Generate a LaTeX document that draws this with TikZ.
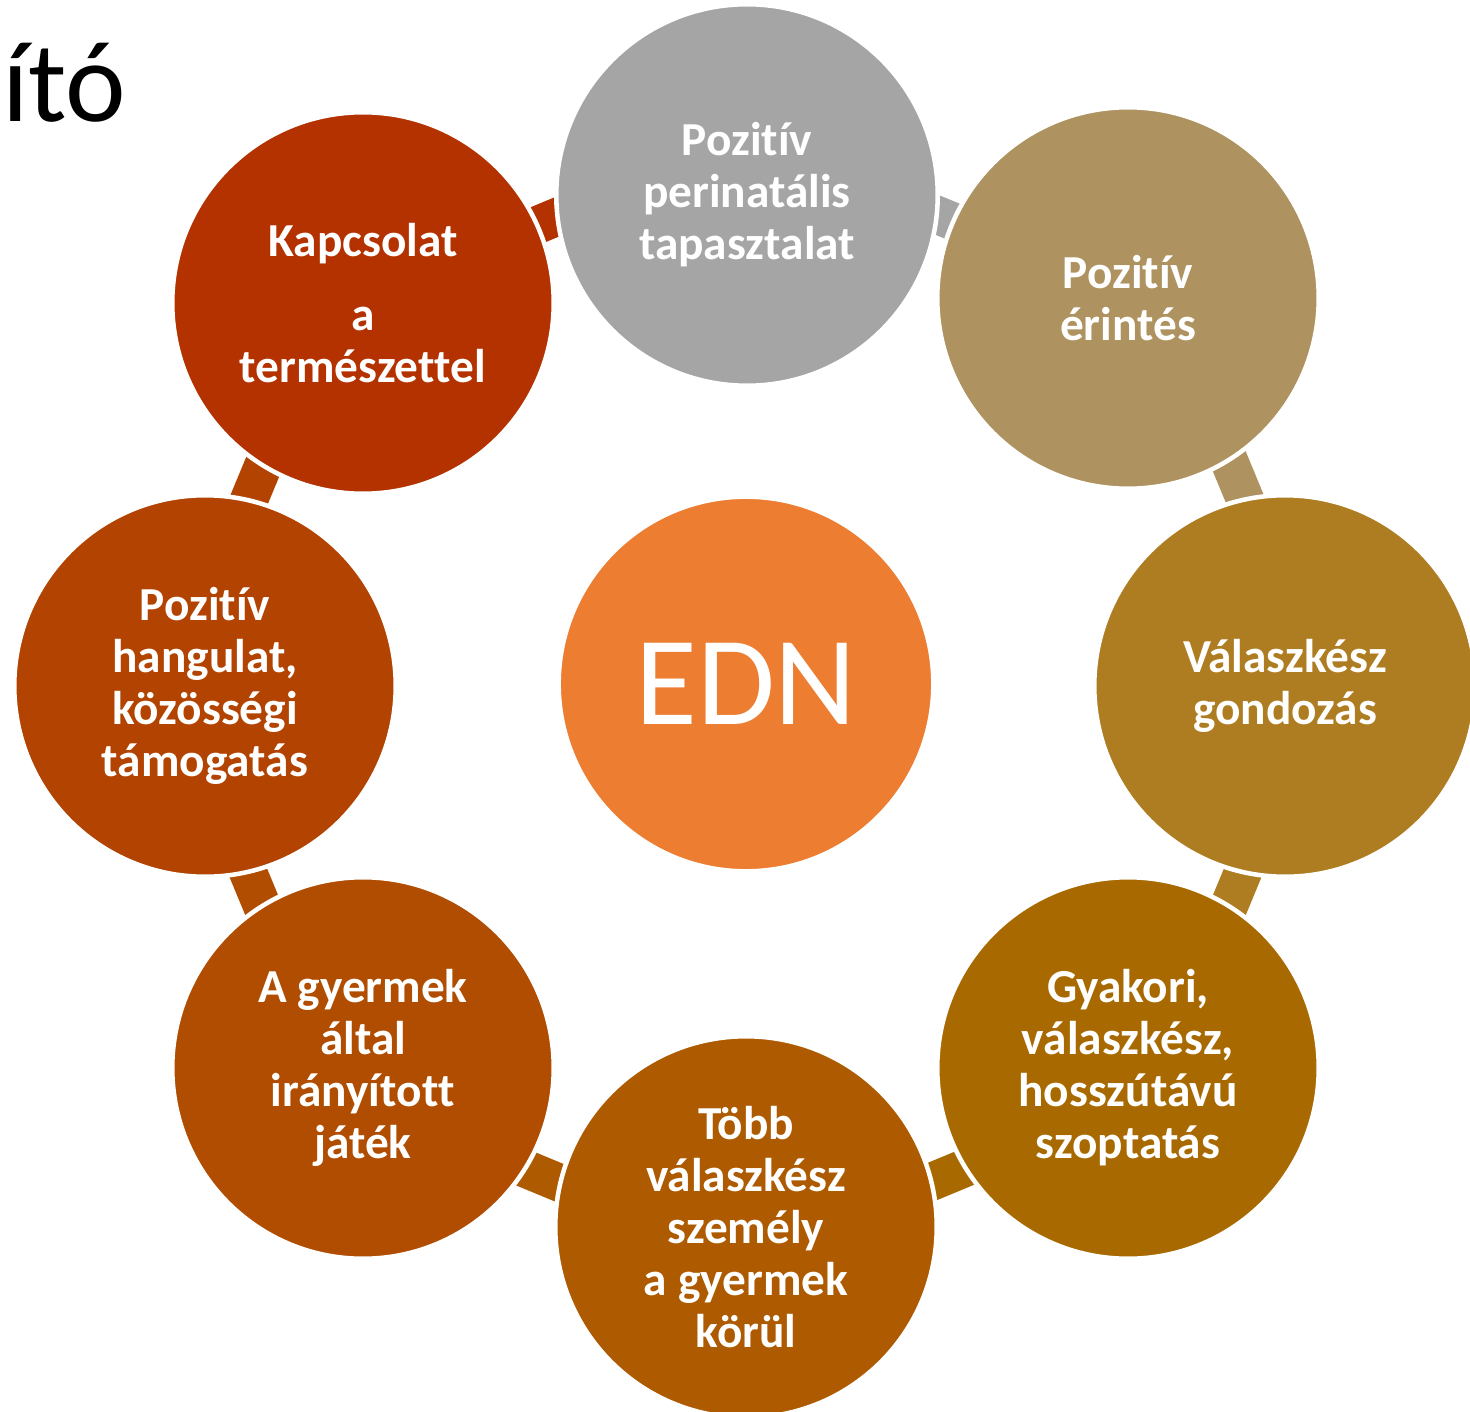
\documentclass[tikz,border=0pt]{standalone}
\usepackage{fontspec}
\setmainfont{Carlito}[Ligatures={NoCommon,NoContextual}, Contextuals=NoAlternate]
\usetikzlibrary{calc}
\newcommand{\nl}{\kern0pt}
\definecolor{cTop}{HTML}{A5A5A5}
\definecolor{cTR}{HTML}{AE9260}
\definecolor{cR}{HTML}{AE7D22}
\definecolor{cBR}{HTML}{A86A00}
\definecolor{cB}{HTML}{AD5A00}
\definecolor{cBL}{HTML}{B04D00}
\definecolor{cL}{HTML}{B24300}
\definecolor{cTL}{HTML}{B43200}
\definecolor{cMid}{HTML}{ED7D31}
\begin{document}
\begin{tikzpicture}[x=0.75pt,y=-0.75pt,
  bub/.style={circle, draw=white, line width=3.4pt, minimum size=286.1pt, inner sep=0pt,
    text=white, align=center, font=\fontsize{35.5}{39}\selectfont\bfseries},
  link/.style={line width=28.5pt, line cap=butt}]
\useasboundingbox (0,0) rectangle (1470,1412);
% connector centres
\coordinate (k1) at (547,221);
\coordinate (k2) at (947,219);
\coordinate (k3) at (1237,480);
\coordinate (k4) at (1236,889);
\coordinate (k5) at (948,1175);
\coordinate (k6) at (543,1176);
\coordinate (k7) at (255,889);
\coordinate (k8) at (256,483);
\draw[link, cTL] ($(k1)+(157.5:40)$) -- ($(k1)+(-22.5:40)$);
\draw[link, cTop] ($(k2)+(202.5:40)$) -- ($(k2)+(22.5:40)$);
\draw[link, cTR] ($(k3)+(247.5:40)$) -- ($(k3)+(67.5:40)$);
\draw[link, cR] ($(k4)+(-67.5:40)$) -- ($(k4)+(112.5:40)$);
\draw[link, cBR] ($(k5)+(-22.5:40)$) -- ($(k5)+(157.5:40)$);
\draw[link, cB] ($(k6)+(22.5:40)$) -- ($(k6)+(202.5:40)$);
\draw[link, cBL] ($(k7)+(67.5:40)$) -- ($(k7)+(247.5:40)$);
\draw[link, cL] ($(k8)+(112.5:40)$) -- ($(k8)+(292.5:40)$);
% circles
\node[bub, fill=cTop] (top) at (747,195) {Pozit\nl ív\\perinatális\\tapasztalat};
\node[bub, fill=cTR] (tr) at (1128,298) {Pozit\nl ív\\érintés};
\node[bub, fill=cR] (r) at (1285,686) {Válaszkész\\gondozás};
\node[bub, fill=cBR] (br) at (1128,1068) {Gyakori,\\válaszkész,\\hosszútávú\\szoptatás};
\node[bub, fill=cB] (b) at (746,1227) {Több\\válaszkész\\személy\\a gyermek\\körül};
\node[bub, fill=cBL] (bl) at (363,1068) {A gyermek\\által\\irányít\nl ot\nl t\\játék};
\node[bub, fill=cL] (l) at (205,686) {Pozit\nl ív\\hangulat,\\közösségi\\támogatás};
\node[bub, fill=cTL] (tl) at (363,303) {Kapcsolat\\[16.5pt]a\\természet\nl tel};
\node[circle, draw=white, line width=3.4pt, minimum size=281pt, inner sep=0pt, fill=cMid,
  text=white, font=\fontsize{95}{100}\selectfont] (edn) at (746,684) {EDN};
\node[anchor=base west, inner sep=0pt, font=\fontsize{86}{90}\selectfont] (title) at (2,122) {ító};
\end{tikzpicture}
\end{document}
